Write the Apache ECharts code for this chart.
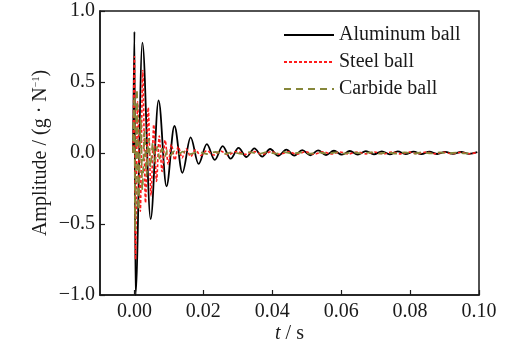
<!DOCTYPE html>
<html>
<head>
<meta charset="utf-8">
<script src="https://cdn.jsdelivr.net/npm/echarts@6/dist/echarts.min.js"></script>
<style>html,body{margin:0;padding:0;background:#fff}#c{width:506px;height:340px}</style>
</head>
<body>
<div id="c"></div>
<script>
var seriesNames = ['Aluminum ball', 'Steel ball', 'Carbide ball'];
var xTicks = [0, 0.02, 0.04, 0.06, 0.08, 0.10];
var yTicks = [-1.0, -0.5, 0.0, 0.5, 1.0];

var alTime = [-0.0004, 0.0000, 0.0003, 0.0023, 0.0047, 0.0070, 0.0093, 0.0116, 0.0139, 0.0163, 0.0186, 0.0210, 0.0233, 0.0256, 0.0279, 0.0302, 0.0325, 0.0348, 0.0371, 0.0394, 0.0417, 0.0441, 0.0464, 0.0487, 0.0510, 0.0533, 0.0556, 0.0579, 0.0602, 0.0625, 0.0648, 0.0672, 0.0695, 0.0718, 0.0741, 0.0764, 0.0787, 0.0810, 0.0833, 0.0856, 0.0879, 0.0902, 0.0925, 0.0948, 0.0971, 0.0995];
var alAmp  = [0, 0.855, -1.0, 0.777, -0.465, 0.37, -0.235, 0.19, -0.139, 0.11, -0.077, 0.063, -0.049, 0.049, -0.040, 0.036, -0.028, 0.033, -0.025, 0.028, -0.020, 0.024, -0.018, 0.020, -0.016, 0.018, -0.014, 0.016, -0.012, 0.014, -0.011, 0.013, -0.010, 0.012, -0.009, 0.011, -0.008, 0.010, -0.008, 0.009, -0.007, 0.008, -0.006, 0.007, -0.006, 0.006];

var stTime = [-0.0004, 0.0000, 0.0003, 0.0009, 0.0017, 0.0024, 0.0032, 0.0040, 0.0048, 0.0056, 0.0064, 0.0072, 0.0080, 0.0089, 0.0098, 0.0107, 0.0117, 0.0127, 0.0138, 0.0150, 0.0163, 0.0177, 0.0192, 0.0210, 0.0230, 0.0250, 0.0272, 0.0297, 0.0322, 0.0347, 0.0372, 0.0397, 0.0422, 0.0447, 0.0472, 0.0497, 0.0522, 0.0547, 0.0572, 0.0597, 0.0622, 0.0647, 0.0672, 0.0697, 0.0722, 0.0747, 0.0772, 0.0797, 0.0822, 0.0847, 0.0872, 0.0897, 0.0922, 0.0947, 0.0972, 0.0997];
var stAmp  = [0, 0.68, -0.75, 0.36, -0.41, 0.58, -0.35, 0.32, -0.30, 0.20, -0.20, 0.12, -0.13, 0.09, -0.08, 0.06, -0.05, 0.045, -0.035, 0.030, -0.025, 0.022, -0.018, 0.016, -0.014, 0.013, -0.012, 0.011, -0.010, 0.010, -0.010, 0.009, -0.009, 0.009, -0.008, 0.008, -0.008, 0.008, -0.007, 0.007, -0.007, 0.007, -0.006, 0.007, -0.006, 0.006, -0.006, 0.006, -0.005, 0.006, -0.005, 0.005, -0.005, 0.005, -0.005, 0.004];

var caTime = [-0.0004, 0.0000, 0.0002, 0.0007, 0.0012, 0.0018, 0.0023, 0.0029, 0.0035, 0.0041, 0.0047, 0.0053, 0.0059, 0.0066, 0.0073, 0.0080, 0.0088, 0.0096, 0.0105, 0.0115, 0.0127, 0.0140, 0.0160, 0.0185, 0.0210, 0.0235, 0.0260, 0.0285, 0.0310, 0.0335, 0.0360, 0.0385, 0.0410, 0.0435, 0.0460, 0.0485, 0.0510, 0.0535, 0.0560, 0.0585, 0.0610, 0.0635, 0.0660, 0.0685, 0.0710, 0.0735, 0.0760, 0.0785, 0.0810, 0.0835, 0.0860, 0.0885, 0.0910, 0.0935, 0.0960, 0.0985];
var caAmp  = [0, 0.40, -0.55, 0.45, -0.40, 0.25, -0.26, 0.15, -0.16, 0.10, -0.10, 0.07, -0.06, 0.045, -0.040, 0.030, -0.025, 0.020, -0.015, 0.012, -0.010, 0.009, -0.008, 0.008, -0.007, 0.007, -0.007, 0.006, -0.006, 0.006, -0.006, 0.006, -0.005, 0.006, -0.005, 0.005, -0.005, 0.005, -0.005, 0.005, -0.004, 0.005, -0.004, 0.004, -0.004, 0.004, -0.004, 0.004, -0.004, 0.004, -0.003, 0.004, -0.003, 0.003, -0.003, 0.003];

function pairs(t, v) { return t.map(function (x, i) { return [x, v[i]]; }); }

var FONT = 'Liberation Serif';
var INK = '#1a1a1a';
var FS = 20;
var chart = echarts.init(document.getElementById('c'), null, {renderer: 'canvas'});
chart.setOption({
  animation: false,
  backgroundColor: '#fff',
  grid: {left: 100, right: 27, top: 11, bottom: 45, outerBoundsMode: 'none', containLabel: false,
         show: true, borderColor: INK, borderWidth: 1.5, backgroundColor: 'transparent'},
  legend: {
    data: seriesNames,
    orient: 'vertical',
    left: 283, top: 25, padding: 0,
    itemWidth: 50, itemHeight: 14, itemGap: 7,
    itemStyle: {opacity: 0},
    textStyle: {fontFamily: FONT, fontSize: FS, color: INK}
  },
  xAxis: {
    type: 'value', min: -0.01, max: 0.10,
    name: '{i|t} / s', nameLocation: 'middle', nameGap: 29, nameMoveOverlap: false,
    nameTextStyle: {fontFamily: FONT, fontSize: FS, color: INK, rich: {i: {fontFamily: FONT, fontSize: FS, fontStyle: 'italic', color: INK}}},
    axisLine: {show: true, onZero: false, lineStyle: {color: INK, width: 1.5}},
    axisTick: {show: true, inside: true, length: 5, customValues: xTicks, lineStyle: {color: INK, width: 1.2}},
    axisLabel: {customValues: xTicks, margin: 7, fontFamily: FONT, fontSize: FS, color: INK, formatter: function (v) { return v.toFixed(2); }},
    splitLine: {show: false}
  },
  yAxis: {
    type: 'value', min: -1, max: 1, interval: 0.5,
    name: 'Amplitude / (g · N{s|−1})', nameLocation: 'middle', nameGap: 49, nameMoveOverlap: false,
    nameTextStyle: {fontFamily: FONT, fontSize: FS, color: INK, rich: {s: {fontFamily: FONT, fontSize: 10, color: INK, verticalAlign: 'top', padding: [0, 0, 10, 0]}}},
    axisLine: {show: true, onZero: false, lineStyle: {color: INK, width: 1.5}},
    axisTick: {show: true, inside: true, length: 5, lineStyle: {color: INK, width: 1.2}},
    axisLabel: {margin: 5, fontFamily: FONT, fontSize: FS, color: INK, formatter: function (v) { return v.toFixed(1).replace('-', '\u2212'); }},
    splitLine: {show: false}
  },
  series: [
    {name: seriesNames[0], type: 'line', data: pairs(alTime, alAmp), symbol: 'none', smooth: 0.35, smoothMonotone: 'x',
     lineStyle: {color: '#000', width: 1.8}, itemStyle: {color: '#000'}, z: 2},
    {name: seriesNames[1], type: 'line', data: pairs(stTime, stAmp), symbol: 'none', smooth: 0.3, smoothMonotone: 'x',
     lineStyle: {color: '#ff1a1a', width: 1.6, type: [3, 2]}, itemStyle: {color: '#ff1a1a'}, z: 3},
    {name: seriesNames[2], type: 'line', data: pairs(caTime, caAmp), symbol: 'none', smooth: 0.3, smoothMonotone: 'x',
     lineStyle: {color: '#86873a', width: 1.8, type: [7, 5]}, itemStyle: {color: '#86873a'}, z: 4}
  ]
});
</script>
</body>
</html>
